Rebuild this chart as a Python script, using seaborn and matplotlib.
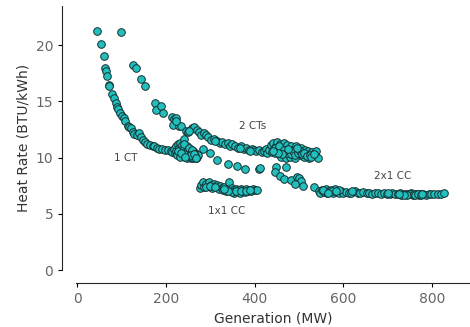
import pandas as pd
import seaborn as sns
import matplotlib.pyplot as plt

# (generation MW, heat rate BTU/kWh), one list per operating mode
ct1_curve = [(45, 21.3), (54, 20.1), (60, 19.0), (63, 18.0), (65, 17.7), (67, 17.3), (71, 16.5),
             (73, 16.4), (79, 15.7), (84, 15.3), (88, 14.9), (90, 14.5), (92, 14.3), (97, 14.0),
             (101, 13.7), (105, 13.5), (108, 13.3), (114, 12.8), (117, 12.7), (121, 12.6),
             (125, 12.3), (128, 12.1), (134, 12.0), (140, 12.2), (144, 11.8), (149, 11.6),
             (153, 11.4), (158, 11.2), (164, 11.1), (170, 11.0), (173, 11.0), (179, 10.9),
             (185, 10.8), (192, 10.8), (198, 10.7), (205, 10.7), (211, 10.6)]

ct1_cluster = [(215, 10.5), (218, 10.8), (220, 10.4), (222, 11.0), (224, 10.6), (226, 10.3),
               (228, 11.2), (230, 10.9), (231, 10.5), (233, 11.3), (235, 10.7), (236, 10.2),
               (238, 11.0), (240, 10.4), (241, 11.7), (243, 10.8), (245, 10.2), (246, 10.6),
               (248, 11.0), (250, 10.3), (251, 10.1), (253, 10.7), (255, 10.4), (256, 10.0),
               (258, 10.5), (260, 10.2), (261, 10.6), (263, 10.1), (265, 10.4), (267, 10.0),
               (268, 10.3), (270, 10.1), (272, 10.2), (225, 10.2), (232, 10.1), (238, 10.6),
               (244, 10.1), (250, 10.5), (256, 10.3), (262, 10.0), (228, 10.6), (236, 11.1),
               (242, 10.9), (248, 10.0), (254, 10.8), (240, 11.2), (246, 10.5), (252, 10.9),
               (258, 10.7), (264, 10.3), (247, 10.25), (253, 10.15), (259, 10.1), (266, 10.15),
               (241, 10.3), (235, 10.4), (257, 10.25), (263, 10.35), (269, 10.0), (243, 10.05)]

ct2_curve = [(99, 21.2), (127, 18.2), (133, 18.0), (144, 17.0), (154, 16.4), (175, 14.9),
             (178, 14.2), (189, 14.6), (194, 14.0), (213, 13.6), (218, 13.4), (216, 12.9),
             (222, 13.5), (229, 12.8), (234, 12.8), (245, 12.4), (249, 12.3), (258, 12.6),
             (263, 12.7), (270, 12.5), (275, 12.3), (279, 12.0), (285, 12.2), (290, 12.0),
             (296, 11.8), (301, 11.6), (308, 11.7), (316, 11.5), (322, 11.3), (327, 11.4),
             (333, 11.2), (339, 11.3), (345, 11.0), (350, 11.2), (356, 11.0), (362, 10.9),
             (369, 11.0), (375, 10.8), (381, 10.9), (387, 10.7), (393, 10.8), (398, 10.7),
             (404, 10.6), (410, 10.7), (416, 10.5), (224, 13.3), (253, 12.4), (311, 11.5),
             (366, 10.85), (390, 10.6)]

ct2_cluster = [(420, 10.6), (425, 10.8), (428, 10.4), (432, 10.7), (436, 11.1), (438, 10.5),
               (441, 11.3), (444, 10.8), (446, 10.4), (449, 11.0), (451, 11.4), (454, 10.6),
               (456, 10.2), (458, 11.2), (461, 10.9), (463, 10.5), (466, 11.3), (468, 10.3),
               (470, 10.8), (473, 11.1), (475, 10.5), (478, 10.2), (480, 10.9), (483, 11.0),
               (485, 10.4), (488, 10.7), (490, 10.1), (493, 11.0), (495, 10.6), (498, 10.3),
               (500, 10.8), (503, 10.2), (505, 10.9), (508, 10.5), (511, 10.1), (514, 10.7),
               (517, 10.3), (520, 10.6), (523, 10.0), (526, 10.4), (530, 10.5), (533, 10.2),
               (536, 10.4), (539, 10.6), (542, 10.0), (460, 10.1), (470, 10.0), (480, 10.1),
               (490, 9.95), (445, 10.9), (455, 11.0), (465, 10.7), (472, 10.45), (477, 10.65),
               (482, 10.35), (487, 10.55), (492, 10.25), (497, 10.45), (502, 10.6), (507, 10.3),
               (512, 10.4), (518, 10.15), (524, 10.25), (528, 10.1), (534, 10.35), (462, 10.35),
               (452, 10.45), (442, 10.55), (476, 10.8), (496, 10.85)]

transition = [(283, 10.8), (299, 10.4), (315, 9.8), (340, 9.4), (361, 9.3), (378, 9.0),
              (409, 9.0), (411, 9.1), (447, 9.2), (470, 9.2), (445, 8.7), (456, 8.4),
              (466, 8.1), (481, 8.0), (496, 8.3), (499, 8.2), (505, 7.9), (492, 7.7),
              (510, 7.5), (533, 7.4)]

cc1x1 = [(276, 7.3), (280, 7.6), (283, 7.8), (286, 7.4), (290, 7.7), (294, 7.5), (297, 7.8),
         (301, 7.6), (304, 7.3), (308, 7.7), (312, 7.5), (316, 7.6), (319, 7.2), (322, 7.5),
         (326, 7.3), (329, 7.1), (332, 7.4), (336, 7.0), (339, 7.2), (343, 7.8), (345, 7.0),
         (348, 7.3), (351, 7.1), (354, 6.9), (357, 7.2), (360, 7.0), (363, 7.1), (366, 6.9),
         (369, 7.2), (372, 7.0), (375, 7.1), (378, 6.95), (381, 7.2), (384, 7.0), (388, 7.1),
         (392, 7.0), (396, 7.2), (400, 7.1), (405, 7.1), (350, 6.95), (340, 7.05), (330, 7.2),
         (365, 7.15), (290, 7.4), (300, 7.45), (310, 7.35), (358, 7.05), (370, 7.05),
         (380, 7.05), (390, 7.15)]

cc2x1 = [(545, 7.0), (548, 6.9), (552, 7.1), (556, 6.95), (560, 7.2), (564, 6.9), (568, 7.0),
         (572, 7.1), (576, 6.9), (580, 7.2), (585, 6.95), (590, 6.9), (595, 7.05), (600, 6.9),
         (606, 6.95), (612, 6.85), (618, 6.9), (625, 7.0), (632, 6.9), (638, 6.85), (645, 6.95),
         (652, 6.85), (658, 6.9), (665, 6.8), (672, 6.85), (678, 6.9), (685, 6.8), (692, 6.85),
         (698, 6.8), (704, 6.75), (710, 6.85), (716, 6.8), (722, 6.75), (728, 6.85), (734, 6.8),
         (740, 6.75), (746, 6.8), (752, 6.85), (756, 6.7), (760, 6.8), (765, 6.75), (770, 6.8),
         (775, 6.75), (780, 6.8), (786, 6.7), (792, 6.75), (798, 6.8), (805, 6.75), (812, 6.8),
         (820, 6.8), (827, 6.85), (555, 7.15), (575, 7.0), (590, 7.1), (620, 7.0), (700, 6.9),
         (730, 6.7), (750, 6.75), (770, 6.7), (744, 6.7), (758, 6.8), (762, 6.72),
         (768, 6.78), (774, 6.7), (778, 6.76), (736, 6.72), (726, 6.78), (566, 6.85), (583, 7.05)]

labels = ['1 CT', '2 CTs', '1x1 CC', '2x1 CC']
label_pos = [(110, 10.0), (395, 12.8), (337, 5.25), (710, 8.4)]

groups = [ct1_curve, ct1_cluster, ct2_curve, ct2_cluster, transition, cc1x1, cc2x1]
rows = [p for g in groups for p in g]
df = pd.DataFrame(rows, columns=['Generation (MW)', 'Heat Rate (BTU/kWh)'])

sns.set_style('ticks')
plt.rcParams['font.family'] = ['DejaVu Sans']

fig = plt.figure(figsize=(4.7, 3.27), dpi=100)
ax = fig.add_axes([0.162, 0.174, 0.838, 0.808])

sns.scatterplot(data=df, x='Generation (MW)', y='Heat Rate (BTU/kWh)', ax=ax,
                color='#22bfbf', edgecolor='#143030', linewidth=0.7, s=30, alpha=1)

for txt, (x, y) in zip(labels, label_pos):
    ax.text(x, y, txt, ha='center', va='center', fontsize=7.5, color='#444444')

ax.set_xlim(-2, 885)
ax.set_ylim(0, 23.5)
ax.set_xticks([0, 200, 400, 600, 800])
ax.set_yticks([0, 5, 10, 15, 20])
ax.tick_params(labelsize=10, labelcolor='#666666', color='black', length=3)
ax.set_xlabel('Generation (MW)', fontsize=10, color='#333333')
ax.set_ylabel('Heat Rate (BTU/kWh)', fontsize=10, color='#333333')
sns.despine(ax=ax, offset={'left': 10, 'bottom': 9})

fig.savefig('out.png', dpi=100)
